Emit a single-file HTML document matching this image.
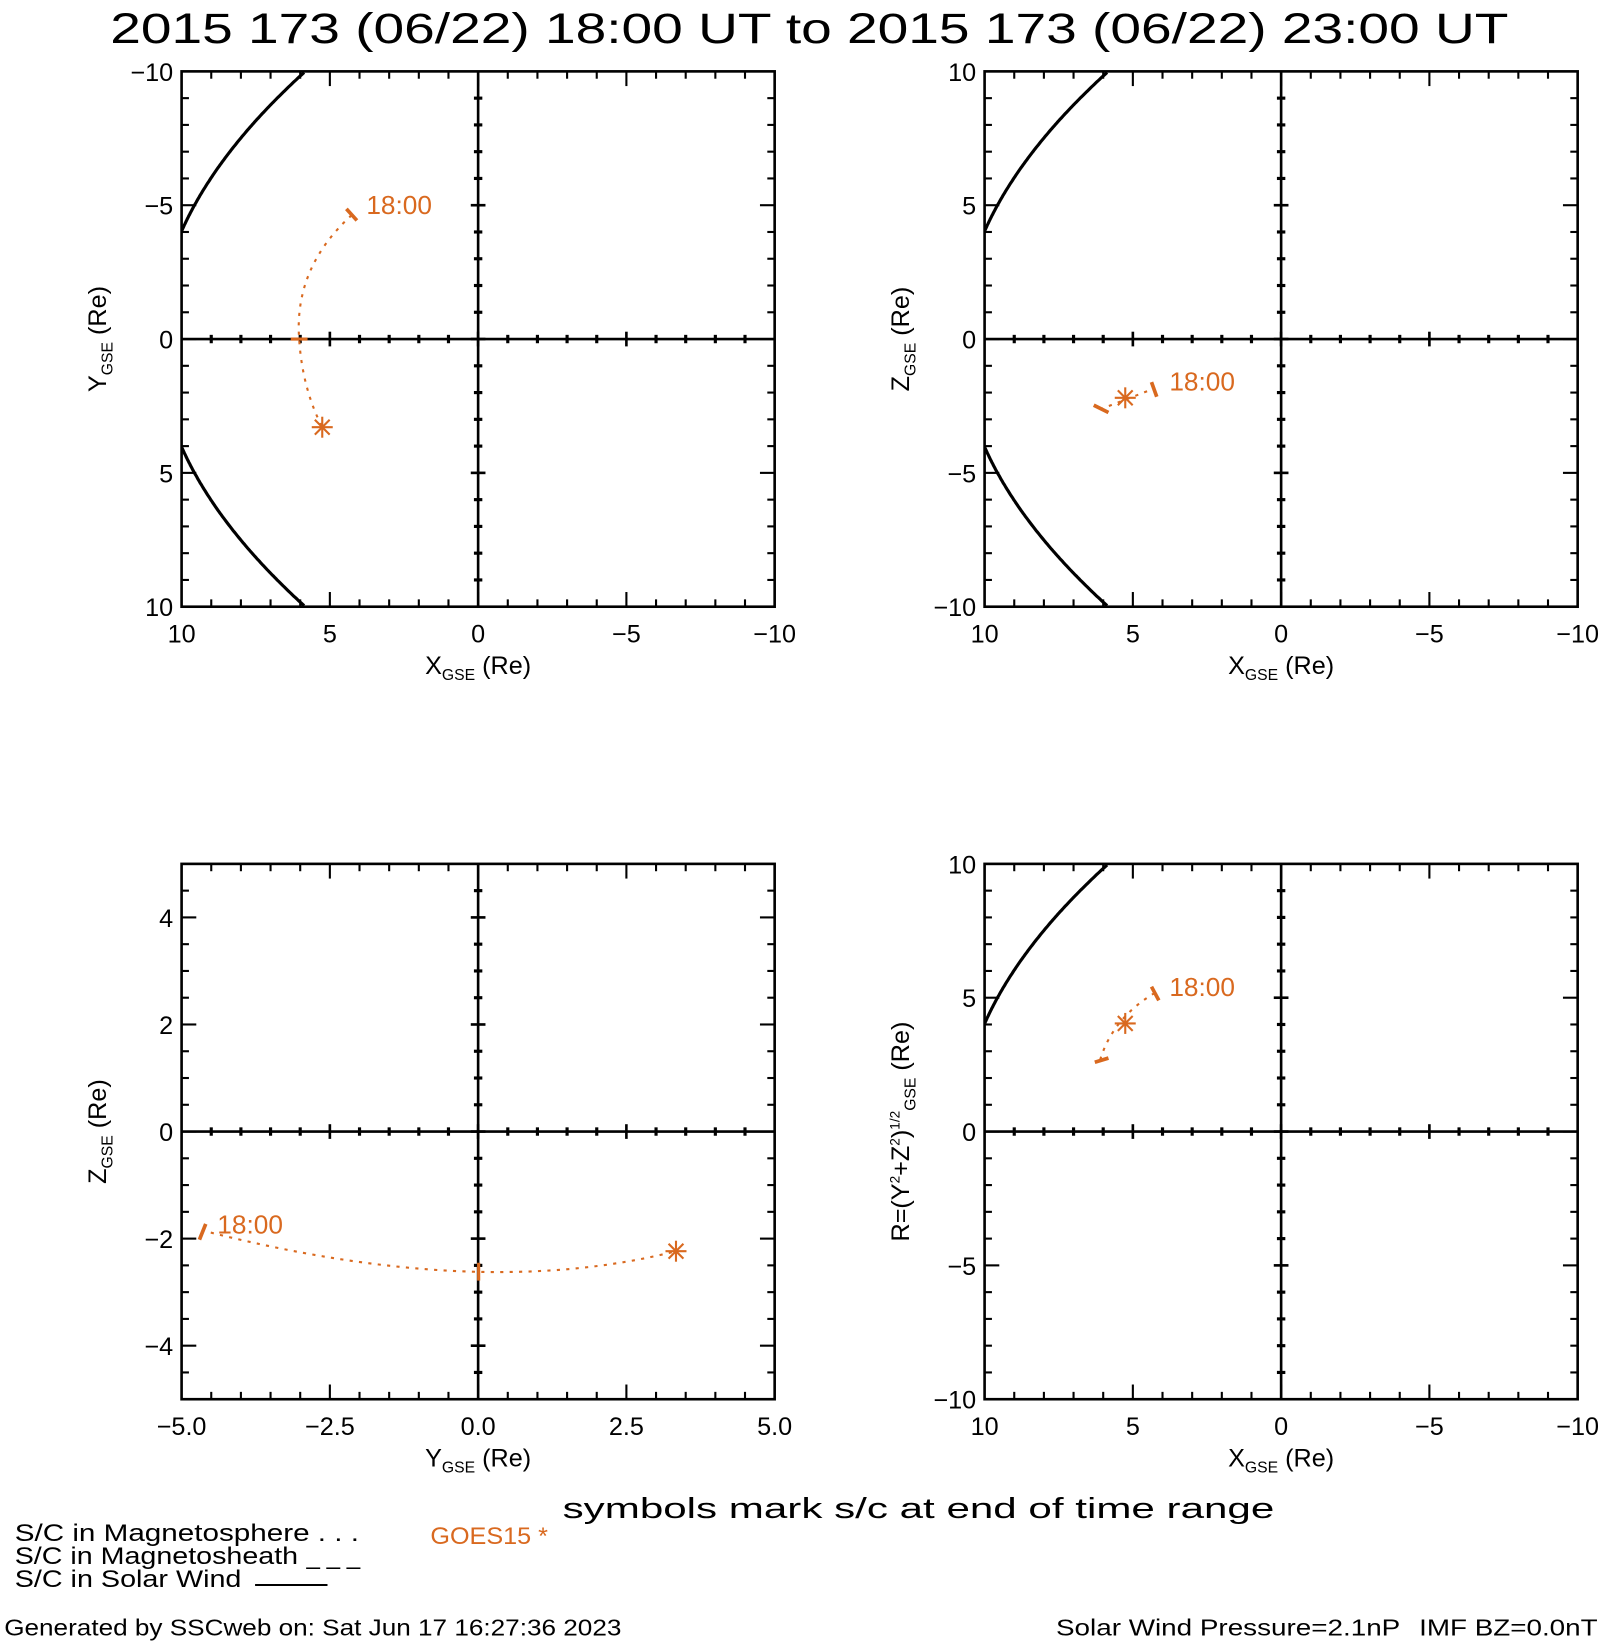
<!DOCTYPE html>
<html><head><meta charset="utf-8"><style>
html,body{margin:0;padding:0;background:#fff;}
svg{display:block;}
text{font-family:"Liberation Sans","DejaVu Sans",sans-serif;}
</style></head><body>
<svg id="s" width="1606" height="1642" viewBox="0 0 1530 1564.3" xmlns="http://www.w3.org/2000/svg">
<rect width="1530" height="1565" fill="#fff"/>
<text x="105" y="41" font-size="41" textLength="1332" lengthAdjust="spacingAndGlyphs">2015 173 (06/22) 18:00 UT to 2015 173 (06/22) 23:00 UT</text>
<g id="g"></g>
<g font-size="27" fill="#000">
<text x="536" y="1446" textLength="678" lengthAdjust="spacingAndGlyphs">symbols mark s/c at end of time range</text>
</g>
<g font-size="23" fill="#000">
<text x="14" y="1468" textLength="328" lengthAdjust="spacingAndGlyphs">S/C in Magnetosphere . . .</text>
<text x="14" y="1490" textLength="270" lengthAdjust="spacingAndGlyphs">S/C in Magnetosheath</text>
<text x="292" y="1490">_ _ _</text>
<text x="14" y="1512" textLength="216" lengthAdjust="spacingAndGlyphs">S/C in Solar Wind</text>
<line x1="243" y1="1510" x2="312" y2="1510" stroke="#000" stroke-width="2"/>
<text x="4" y="1558" font-size="22" textLength="588" lengthAdjust="spacingAndGlyphs">Generated by SSCweb on: Sat Jun 17 16:27:36 2023</text>
<text x="1006" y="1558" font-size="22" textLength="328" lengthAdjust="spacingAndGlyphs">Solar Wind Pressure=2.1nP</text>
<text x="1352" y="1558" font-size="22" textLength="170" lengthAdjust="spacingAndGlyphs">IMF BZ=0.0nT</text>
</g>
<text x="410" y="1471" font-size="23" fill="#d9691f" textLength="112" lengthAdjust="spacingAndGlyphs">GOES15 *</text>
</svg>
<script>
const NS="http://www.w3.org/2000/svg",G=document.getElementById('g');
function el(t,a,txt){const e=document.createElementNS(NS,t);for(const k in a)e.setAttribute(k,a[k]);if(txt!==undefined)e.textContent=txt;G.appendChild(e);return e;}
function ln(x1,y1,x2,y2,w,c){el('line',{x1,y1,x2,y2,stroke:c||'#000','stroke-width':w||2});}
const OR='#d9691f';
function panel(L,T,xl,yl,ymaj,xlab,ylab){
 const R=L+565,B=T+510,cx=L+282.5,cy=T+255;
 el('rect',{x:L,y:T,width:565,height:510,fill:'none',stroke:'#000','stroke-width':2.5});
 ln(cx,T,cx,B,2.5);ln(L,cy,R,cy,2.5);
 for(let i=1;i<20;i++){const x=L+i*565/20,maj=i%5==0,len=maj?14:7;
  ln(x,T,x,T+len);ln(x,B,x,B-len);ln(x,cy-(maj?7:4),x,cy+(maj?7:4),maj?2.5:3);}
 for(let i=1;i<20;i++){const y=T+i*510/20,maj=ymaj(i),len=maj?14:7;
  ln(L,y,L+len,y);ln(R,y,R-len,y);ln(cx-(maj?7:4),y,cx+(maj?7:4),y,maj?2.5:3);}
 xl.forEach((s,i)=>el('text',{x:L+i*565/(xl.length-1),y:B+34,'font-size':24,'text-anchor':'middle'},s));
 yl.forEach(([s,y])=>el('text',{x:L-8,y:y+9,'font-size':24,'text-anchor':'end'},s));
 const t=el('text',{x:cx,y:B+64,'font-size':24,'text-anchor':'middle'});
 t.innerHTML=xlab;
 const u=el('text',{transform:`translate(${L-72},${cy}) rotate(-90)`,'font-size':24,'text-anchor':'middle'});
 u.innerHTML=ylab;
}
const XL=['10','5','0','\u22125','\u221210'];
const m5=i=>i%5==0;
function yl5(T,arr){return arr.map((s,i)=>[s,T+i*127.5]);}
const XG='X<tspan font-size="15" dy="6">GSE</tspan><tspan dy="-6"> (Re)</tspan>';
panel(173,68,XL,yl5(68,['\u221210','\u22125','0','5','10']),m5,XG,'Y<tspan font-size="15" dy="6">GSE</tspan><tspan dy="-6"> (Re)</tspan>');
panel(938,68,XL,yl5(68,['10','5','0','\u22125','\u221210']),m5,XG,'Z<tspan font-size="15" dy="6">GSE</tspan><tspan dy="-6"> (Re)</tspan>');
panel(173,823,['\u22125.0','\u22122.5','0.0','2.5','5.0'],[['4',874],['2',976],['0',1078],['\u22122',1180],['\u22124',1282]],i=>(i-2)%4==0,'Y<tspan font-size="15" dy="6">GSE</tspan><tspan dy="-6"> (Re)</tspan>','Z<tspan font-size="15" dy="6">GSE</tspan><tspan dy="-6"> (Re)</tspan>');
panel(938,823,XL,yl5(823,['10','5','0','\u22125','\u221210']),m5,XG,'R=(Y<tspan font-size="13" dy="-9">2</tspan><tspan dy="9">+Z</tspan><tspan font-size="13" dy="-9">2</tspan><tspan dy="9">)</tspan><tspan font-size="13" dy="-9">1/2</tspan><tspan font-size="15" dy="15">GSE</tspan><tspan dy="-6"> (Re)</tspan>');
function mpHalf(L,T,s){let d='',f=true;for(let t=4.06;t<=10.01;t+=0.05){const x=10.81-0.0498*t*t;const px=L+282.5-x*28.25,py=T+255+s*t*25.5;d+=(f?'M':'L')+px.toFixed(1)+' '+py.toFixed(1);f=false;}el('path',{d,fill:'none',stroke:'#000','stroke-width':3});}
mpHalf(173,68,-1);mpHalf(173,68,1);mpHalf(938,68,-1);mpHalf(938,68,1);mpHalf(938,823,-1);
function dot(d){el('path',{d,fill:'none',stroke:OR,'stroke-width':2,'stroke-dasharray':'3 6'});}
function star(x,y,r){for(let a=0;a<180;a+=45){const c=Math.cos(a*Math.PI/180)*r,s=Math.sin(a*Math.PI/180)*r;ln(x-c,y-s,x+c,y+s,2,OR);}}
function lab(x,y){el('text',{x,y,'font-size':25,fill:OR},'18:00');}
dot('M335 205 Q280 255 285 323 Q288 370 307 407');ln(330,199,340,210,3.5,OR);ln(277,323,293,323,3,OR);star(307,407,10);lab(349,204);
dot('M1048 390 L1100 370');ln(1042,386,1056,393,3.5,OR);ln(1097,364,1102,378,3.5,OR);star(1072,379,10);lab(1114,372);
dot('M192 1172 Q455 1240 644 1192');ln(190,1181,196,1166,3.5,OR);ln(456,1203,456,1220,3,OR);star(644,1192,10);lab(207,1175);
dot('M1100 946 Q1060 970 1048 1010');ln(1097,940,1104,953,3.5,OR);ln(1043,1012,1056,1008,3.5,OR);star(1072,975,10);lab(1114,949);
</script>
</body></html>
